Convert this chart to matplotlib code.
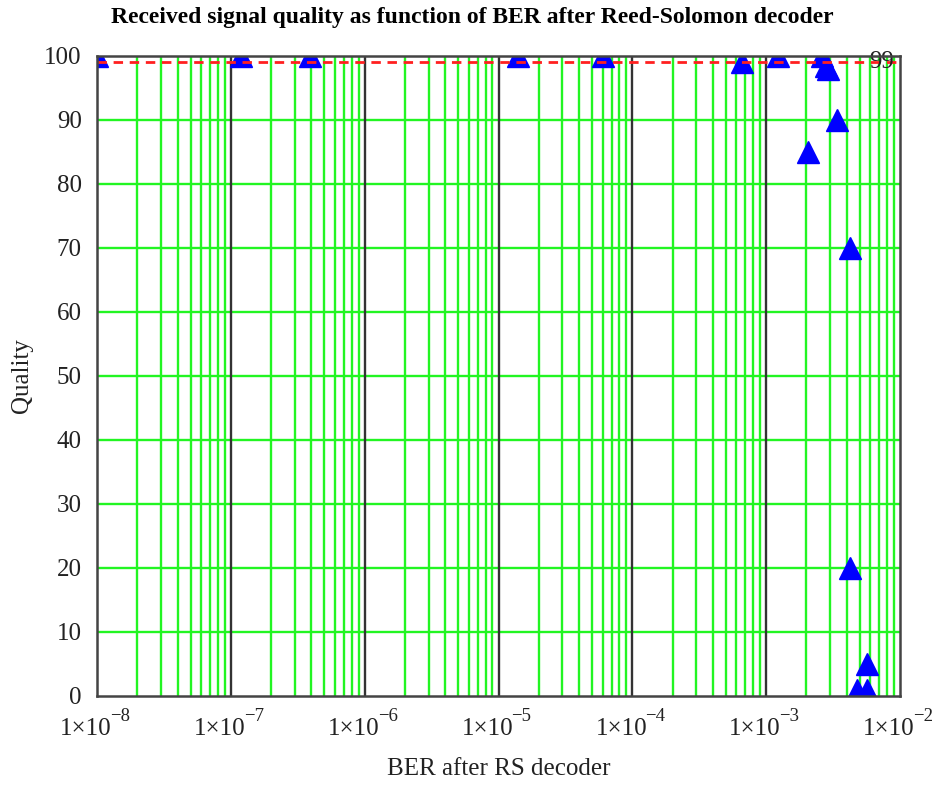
import matplotlib
matplotlib.use("Agg")
import matplotlib.pyplot as plt
import matplotlib.transforms as mtransforms

# ---- data ----
ber = [1.0e-8, 1.2e-7, 3.9e-7, 1.4e-5, 6.0e-5, 6.6e-4, 1.23e-3, 2.6e-3, 2.8e-3,
       2.9e-3, 3.4e-3, 2.06e-3, 4.2e-3, 4.2e-3, 5.7e-3, 4.8e-3, 5.7e-3]
quality = [100, 100, 100, 100, 100, 99, 100, 100, 98.5,
           98, 90, 85, 70, 20, 5, 1, 1]
threshold = 99
decades = [-8, -7, -6, -5, -4, -3, -2]
yticks = [0, 10, 20, 30, 40, 50, 60, 70, 80, 90, 100]

plt.rcParams['font.family'] = ['Liberation Serif', 'DejaVu Serif']

fig = plt.figure(figsize=(9.36, 7.87), dpi=100)
ax = fig.add_axes([97/936, 1-696/787, (900-97)/936, (696-56)/787])

ax.set_xscale('log')
ax.set_xlim(10.0**decades[0], 10.0**decades[-1])
ax.set_ylim(0, 100)

green = '#22f522'
# minor vertical grid
for d in decades[:-1]:
    for m in range(2, 10):
        ax.axvline(m * 10.0**d, color=green, lw=1.7, zorder=1)
# horizontal grid
for yv in yticks[1:-1]:
    ax.axhline(yv, color=green, lw=1.7, zorder=1)
# decade lines
for d in decades[1:-1]:
    ax.axvline(10.0**d, color='#333333', lw=1.7, zorder=2)

ax.plot(ber, quality, linestyle='none', marker='^', ms=16.5, color='#0000ff',
        markeredgecolor='#0000ff', zorder=3)

ax.axhline(threshold, color='#ff2020', lw=2.0, dashes=(3.4, 2.4), zorder=4)
trans = mtransforms.blended_transform_factory(ax.transAxes, ax.transData)
ax.text(0.993, threshold + 0.1, str(threshold), transform=trans,
        ha='right', va='center', fontsize=18, color='#222222', zorder=5)

# x ticks: label drawn as "1×10" plus a raised exponent
ax.set_xticks([10.0**d for d in decades])
ax.set_xticklabels([''] * len(decades))
ax.xaxis.set_minor_locator(matplotlib.ticker.NullLocator())
xtrans = mtransforms.blended_transform_factory(ax.transData, ax.transAxes)
for d in decades:
    t_main = xtrans + mtransforms.ScaledTranslation(-11/100, -39/100, fig.dpi_scale_trans)
    ax.text(10.0**d, 0, '1\u00d710', transform=t_main, ha='center', va='baseline',
            fontsize=18, color='#222222', clip_on=False)
    t_exp = xtrans + mtransforms.ScaledTranslation(13/100, -25/100, fig.dpi_scale_trans)
    ax.text(10.0**d, 0, '\u2212%d' % abs(d), transform=t_exp, ha='left', va='baseline',
            fontsize=13.5, color='#222222', clip_on=False)

ax.set_yticks(yticks)
ax.set_yticklabels([str(v) for v in yticks], fontsize=18)
ax.tick_params(axis='both', length=0, colors='#222222')
ax.tick_params(axis='y', pad=11)

for s in ax.spines.values():
    s.set_color('#444444')
    s.set_linewidth(1.8)
    s.set_zorder(6)

ax.set_xlabel('BER after RS decoder', fontsize=18, color='#222222', va='center')
ax.xaxis.set_label_coords(0.5, -(769-696)/640)
ax.set_ylabel('Quality', fontsize=18, color='#222222', va='center')
ax.yaxis.set_label_coords(-(97-22)/803, 0.5)
fig.text(472/936, 1-17/787, 'Received signal quality as function of BER after Reed-Solomon decoder',
         ha='center', va='center', fontsize=17, fontweight='bold')

fig.savefig('out.png', dpi=100)
